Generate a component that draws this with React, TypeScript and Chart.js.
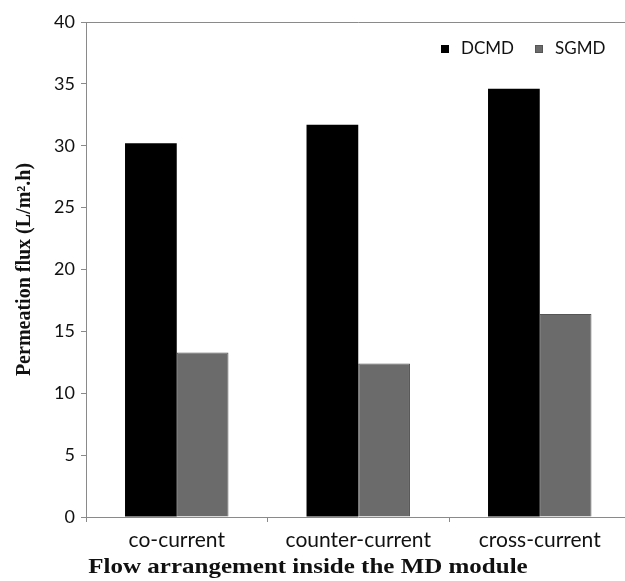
import React, { useEffect, useRef } from "react";
import { Chart, registerables } from "chart.js";

Chart.register(...registerables);

const categories = ["co-current", "counter-current", "cross-current"];
const dcmdValues = [30.2, 31.7, 34.6];
const sgmdValues = [13.3, 12.4, 16.4];
const seriesNames = ["DCMD", "SGMD"];
const yTicks = [0, 5, 10, 15, 20, 25, 30, 35, 40];
const xTitle = "Flow arrangement inside the MD module";
const yTitle = "Permeation flux (L/m².h)";

const AXIS = "#8a8a8a";

const legendPlugin = {
  id: "cornerLegend",
  afterDraw(chart: any) {
    const { ctx, chartArea } = chart;
    const ds = chart.data.datasets;
    ctx.save();
    ctx.font = "17px Lato";
    ctx.textBaseline = "middle";
    const y = chartArea.top + 27;
    const xs = [441, 535];
    ds.forEach((d: any, i: number) => {
      const x = xs[i];
      ctx.fillStyle = d.backgroundColor;
      ctx.fillRect(x, y - 4, 8, 8);
      if (d.borderWidth) {
        ctx.strokeStyle = d.borderColor;
        ctx.lineWidth = 1;
        ctx.strokeRect(x + 0.5, y - 3.5, 7, 7);
      }
      ctx.fillStyle = "#111";
      ctx.textAlign = "left";
      ctx.fillText(d.label, x + 20, y);
    });
    ctx.restore();
  },
};

// x-axis title, drawn slightly widened like the reference's stretched type
const xTitlePlugin = {
  id: "wideXTitle",
  afterDraw(chart: any) {
    const { ctx } = chart;
    const xs = chart.scales.x;
    ctx.save();
    ctx.font = "bold 21px 'Liberation Serif'";
    ctx.fillStyle = "#111";
    ctx.textAlign = "center";
    ctx.textBaseline = "middle";
    const cx = 308;
    const cy = xs.bottom - 13;
    ctx.translate(cx, cy);
    ctx.scale(1.19, 1);
    ctx.fillText(xTitle, 0, 0);
    ctx.restore();
  },
};

export default function App() {
  const ref = useRef<HTMLCanvasElement | null>(null);
  useEffect(() => {
    if (!ref.current) return;
    const chart = new Chart(ref.current, {
      type: "bar",
      data: {
        labels: categories,
        datasets: [
          {
            label: seriesNames[0],
            data: dcmdValues,
            backgroundColor: "#000000",
            borderColor: "#000000",
            borderWidth: 0,
          },
          {
            label: seriesNames[1],
            data: sgmdValues,
            backgroundColor: "#6b6b6b",
            borderColor: "#555555",
            borderWidth: 1,
          },
        ],
      },
      options: {
        responsive: false,
        animation: false,
        layout: { padding: { top: 22, right: 9.5, left: 0, bottom: 0 } },
        datasets: { bar: { categoryPercentage: 0.57, barPercentage: 1 } },
        plugins: { legend: { display: false }, tooltip: { enabled: false } },
        scales: {
          x: {
            grid: {
              offset: true,
              drawOnChartArea: false,
              tickLength: 5,
              tickColor: AXIS,
              color: AXIS,
            },
            border: { color: AXIS, width: 1 },
            ticks: {
              color: "#111",
              font: { family: "Lato", size: 21 },
              padding: 6,
              maxRotation: 0,
            },
            title: { display: false, text: xTitle },
            afterFit: (s: any) => {
              s.height = 64;
            },
          },
          y: {
            min: 0,
            max: 40,
            afterBuildTicks: (s: any) => {
              s.ticks = yTicks.map((v) => ({ value: v }));
            },
            grid: {
              color: (c: any) => (c.tick && c.tick.value === 40 ? AXIS : "rgba(0,0,0,0)"),
              tickColor: AXIS,
              tickLength: 5,
            },
            border: { color: AXIS, width: 1 },
            ticks: {
              color: "#111",
              font: { family: "Lato", size: 18 },
              padding: 6,
            },
            title: {
              display: true,
              text: yTitle,
              color: "#111",
              font: { family: "Liberation Serif", size: 20, weight: "bold" },
              padding: { top: 13, bottom: 0 },
            },
            afterFit: (s: any) => {
              s.width = 86;
            },
          },
        },
      },
      plugins: [legendPlugin, xTitlePlugin],
    });
    return () => chart.destroy();
  }, []);
  return (
    <div
      style={{
        position: "fixed",
        left: 0,
        top: 0,
        width: 625,
        height: 581,
        overflow: "hidden",
        background: "#fff",
      }}
    >
      <canvas ref={ref} width={640} height={581} style={{ display: "block" }} />
    </div>
  );
}
